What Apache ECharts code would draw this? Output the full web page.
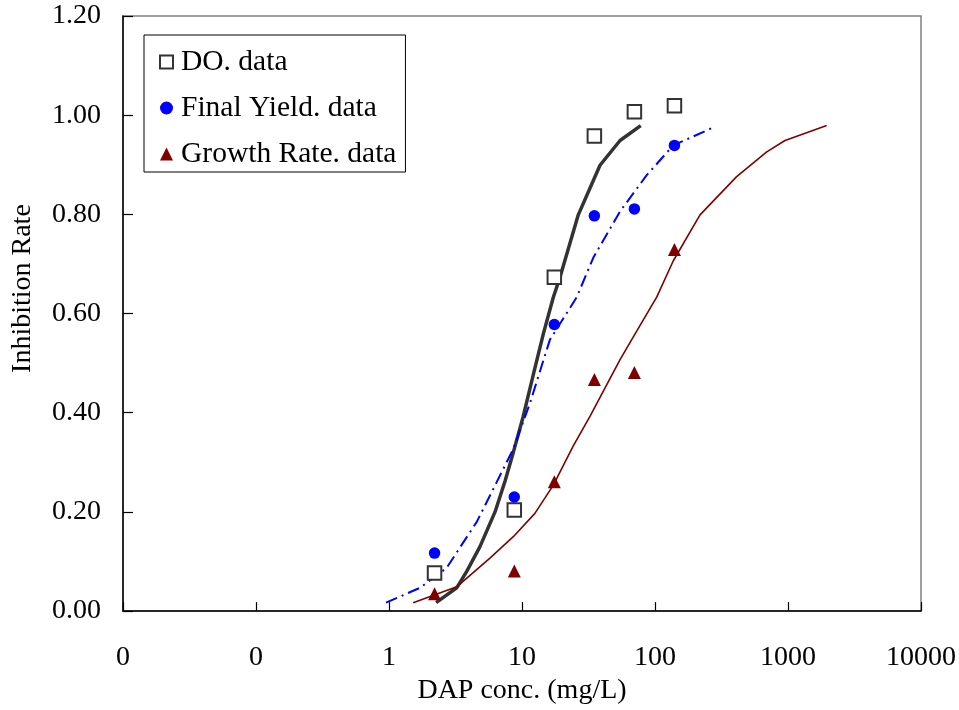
<!DOCTYPE html>
<html>
<head>
<meta charset="utf-8">
<script src="https://cdn.jsdelivr.net/npm/echarts@6/dist/echarts.min.js"></script>
<style>html,body{margin:0;padding:0;background:#fff;}#c{width:959px;height:710px;}</style>
</head>
<body>
<div id="c"></div>
<script>
// Measured concentrations (mg/L) for data points
const conc = [2.2, 8.75, 17.5, 35, 70, 140];
const doData = [0.077, 0.204, 0.673, 0.958, 1.007, 1.019];
const fyData = [0.117, 0.230, 0.578, 0.797, 0.811, 0.939];
const grData = [0.035, 0.081, 0.261, 0.467, 0.481, 0.729];

// Fitted curves
const doCurveX = [2.26, 3.23, 3.84, 4.83, 6.27, 7.45, 8.6, 10.2, 12.5, 14.5, 17.2, 19.3, 26.5, 38.6, 54.6, 78.1];
const doCurveY = [0.017, 0.047, 0.080, 0.130, 0.200, 0.262, 0.320, 0.392, 0.490, 0.560, 0.633, 0.673, 0.799, 0.899, 0.949, 0.979];
const fyCurveX = [0.95, 1.71, 2.71, 4.57, 6.45, 8.6, 11.5, 16.2, 25.8, 34.4, 54.6, 86.6, 137, 278];
const fyCurveY = [0.017, 0.047, 0.087, 0.180, 0.260, 0.327, 0.420, 0.547, 0.633, 0.713, 0.806, 0.879, 0.939, 0.976];
const grCurveX = [1.52, 3.23, 5.74, 8.6, 12.5, 17.2, 24.3, 32.5, 54.6, 68.7, 103, 137, 218, 411, 692, 949, 1954];
const grCurveY = [0.017, 0.049, 0.107, 0.150, 0.197, 0.254, 0.333, 0.393, 0.507, 0.553, 0.633, 0.706, 0.799, 0.876, 0.926, 0.949, 0.979];

const xMin = 0.01, xMax = 10000;
const yMin = 0, yMax = 1.2, yStep = 0.2;
const seriesNames = ['DO. data', 'Final Yield. data', 'Growth Rate. data'];
const xTitle = 'DAP conc. (mg/L)';
const yTitle = 'Inhibition Rate';

const zip = (xs, ys) => xs.map((x, i) => [x, ys[i]]);
const FONT = "'Liberation Serif', 'Times New Roman', serif";

const chart = echarts.init(document.getElementById('c'), null, {renderer: 'canvas'});
chart.setOption({
  backgroundColor: '#fff',
  animation: false,
  textStyle: {fontFamily: FONT, color: '#000'},
  grid: {left: 123, right: 38, top: 16, bottom: 92, show: true, borderColor: '#808080', borderWidth: 1.5, containLabel: false},
  legend: {
    data: seriesNames,
    orient: 'vertical',
    left: 144, top: 35,
    borderColor: '#000', borderWidth: 1,
    backgroundColor: '#fff',
    padding: [12, 9, 3, 15],
    itemGap: 16,
    itemWidth: 13, itemHeight: 13,
    textStyle: {fontFamily: FONT, fontSize: 29.5, color: '#000', padding: [0,0,0,3]}
  },
  xAxis: {
    type: 'log', logBase: 10, min: xMin, max: xMax,
    name: xTitle, nameLocation: 'middle', nameGap: 59,
    nameTextStyle: {fontFamily: FONT, fontSize: 28, color: '#000'},
    axisLine: {lineStyle: {color: '#000', width: 1.5}},
    axisTick: {inside: true, length: 9, lineStyle: {color: '#000', width: 1.2}},
    splitLine: {show: false},
    axisLabel: {
      fontFamily: FONT, fontSize: 28, color: '#000', margin: 33,
      formatter: v => v < 0.999 ? '0' : String(Math.round(v))
    }
  },
  yAxis: {
    type: 'value', min: yMin, max: yMax, interval: yStep,
    name: yTitle, nameLocation: 'middle', nameGap: 86,
    nameTextStyle: {fontFamily: FONT, fontSize: 28, color: '#000', padding: [0, 0, 0, 50]},
    axisLine: {show: true, lineStyle: {color: '#000', width: 1.5}},
    axisTick: {show: true, inside: true, length: 10, lineStyle: {color: '#000', width: 1.2}},
    splitLine: {show: false},
    axisLabel: {fontFamily: FONT, fontSize: 28, color: '#000', margin: 22, formatter: v => v.toFixed(2)}
  },
  series: [
    {type: 'line', name: 'DO curve', data: zip(doCurveX, doCurveY), smooth: false, showSymbol: false, symbol: 'none',
     lineStyle: {color: '#333333', width: 3.5}, z: 3, silent: true},
    {type: 'line', name: 'FY curve', data: zip(fyCurveX, fyCurveY), smooth: false, showSymbol: false, symbol: 'none',
     lineStyle: {color: '#0000ff', width: 2, type: [12, 5, 2, 5]}, z: 3, silent: true},
    {type: 'line', name: 'GR curve', data: zip(grCurveX, grCurveY), smooth: false, showSymbol: false, symbol: 'none',
     lineStyle: {color: '#800000', width: 1.6}, z: 3, silent: true},
    {type: 'scatter', name: seriesNames[0], data: zip(conc, doData), symbol: 'rect', symbolSize: 13.5,
     itemStyle: {color: '#fff', borderColor: '#333', borderWidth: 2, opacity: 1}, z: 5},
    {type: 'scatter', name: seriesNames[1], data: zip(conc, fyData), symbol: 'circle', symbolSize: 11.5,
     itemStyle: {color: '#0000ff', opacity: 1}, z: 5},
    {type: 'scatter', name: seriesNames[2], data: zip(conc, grData), symbol: 'triangle', symbolSize: 13,
     itemStyle: {color: '#800000', opacity: 1}, z: 5}
  ]
});
</script>
</body>
</html>
